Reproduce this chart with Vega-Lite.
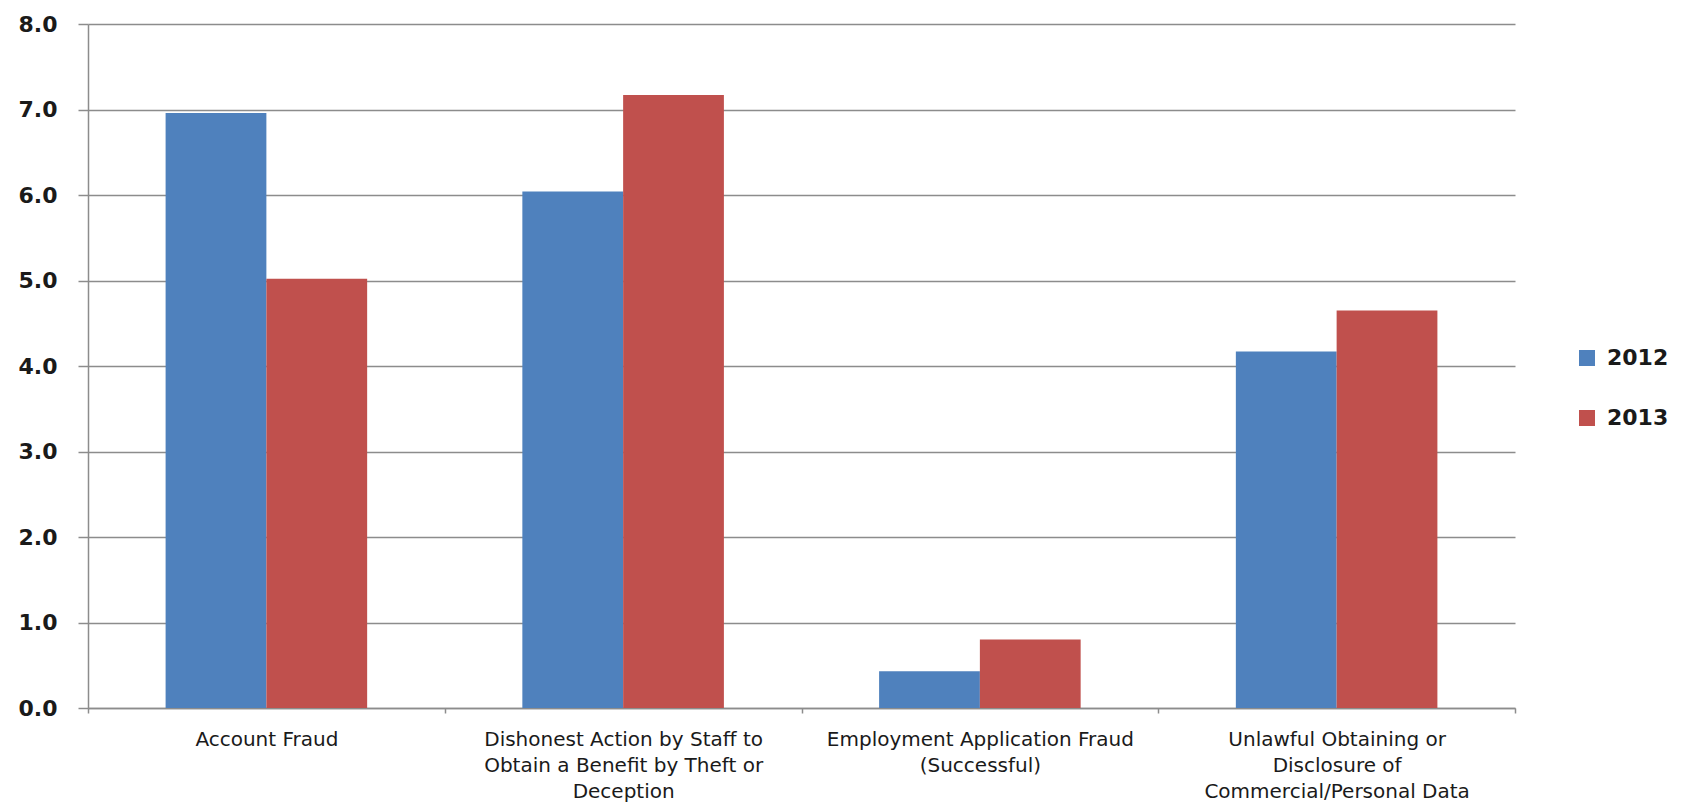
{
  "$schema": "https://vega.github.io/schema/vega-lite/v6.json",
  "width": 1427,
  "height": 684,
  "autosize": {"type": "none"},
  "padding": {"left": 88, "top": 24, "right": 169, "bottom": 103},
  "background": "white",
  "data": {
    "values": [
      {"category": "Account Fraud", "year": "2012", "value": 6.96},
      {"category": "Account Fraud", "year": "2013", "value": 5.02},
      {"category": "Dishonest Action by Staff to\nObtain a Benefit by Theft or\nDeception", "year": "2012", "value": 6.04},
      {"category": "Dishonest Action by Staff to\nObtain a Benefit by Theft or\nDeception", "year": "2013", "value": 7.17},
      {"category": "Employment Application Fraud\n(Successful)", "year": "2012", "value": 0.43},
      {"category": "Employment Application Fraud\n(Successful)", "year": "2013", "value": 0.8},
      {"category": "Unlawful Obtaining or\nDisclosure of\nCommercial/Personal Data", "year": "2012", "value": 4.17},
      {"category": "Unlawful Obtaining or\nDisclosure of\nCommercial/Personal Data", "year": "2013", "value": 4.65}
    ]
  },
  "mark": {"type": "bar"},
  "encoding": {
    "x": {
      "field": "category",
      "type": "nominal",
      "sort": null,
      "scale": {"paddingInner": 0, "paddingOuter": 0},
      "axis": {
        "title": null,
        "labelAngle": 0,
        "tickBand": "extent",
        "ticks": true,
        "tickSize": 5,
        "tickColor": "#8c8c8c",
        "tickWidth": 1.5,
        "domainColor": "#8c8c8c",
        "domainWidth": 1.5,
        "grid": false,
        "labelExpr": "split(datum.label, '\\n')",
        "labelFont": "DejaVu Sans",
        "labelFontSize": 20,
        "labelLineHeight": 26,
        "labelPadding": 16,
        "labelBaseline": "top",
        "labelLimit": 0,
        "labelColor": "#1a1a1a"
      }
    },
    "xOffset": {
      "field": "year",
      "type": "nominal",
      "scale": {"paddingInner": 0, "paddingOuter": 0.77}
    },
    "y": {
      "field": "value",
      "type": "quantitative",
      "scale": {"domain": [0, 8], "nice": false},
      "axis": {
        "title": null,
        "values": [0, 1, 2, 3, 4, 5, 6, 7, 8],
        "format": ".1f",
        "grid": true,
        "gridColor": "#8c8c8c",
        "gridWidth": 1.5,
        "domain": true,
        "domainColor": "#8c8c8c",
        "domainWidth": 1.5,
        "ticks": true,
        "tickSize": 10,
        "tickColor": "#8c8c8c",
        "tickWidth": 1.5,
        "labelFont": "DejaVu Sans",
        "labelFontWeight": "bold",
        "labelFontSize": 22,
        "labelColor": "#1a1a1a",
        "labelPadding": 21
      }
    },
    "color": {
      "field": "year",
      "type": "nominal",
      "scale": {"domain": ["2012", "2013"], "range": ["#4F81BD", "#C0504D"]},
      "legend": {
        "title": null,
        "orient": "none",
        "legendX": 1488,
        "legendY": 323,
        "symbolType": "square",
        "symbolSize": 256,
        "symbolStrokeWidth": 0,
        "labelFont": "DejaVu Sans",
        "labelFontWeight": "bold",
        "labelFontSize": 22,
        "labelColor": "#1a1a1a",
        "labelOffset": 9,
        "rowPadding": 38,
        "padding": 0
      }
    }
  },
  "config": {"view": {"stroke": null}}
}
